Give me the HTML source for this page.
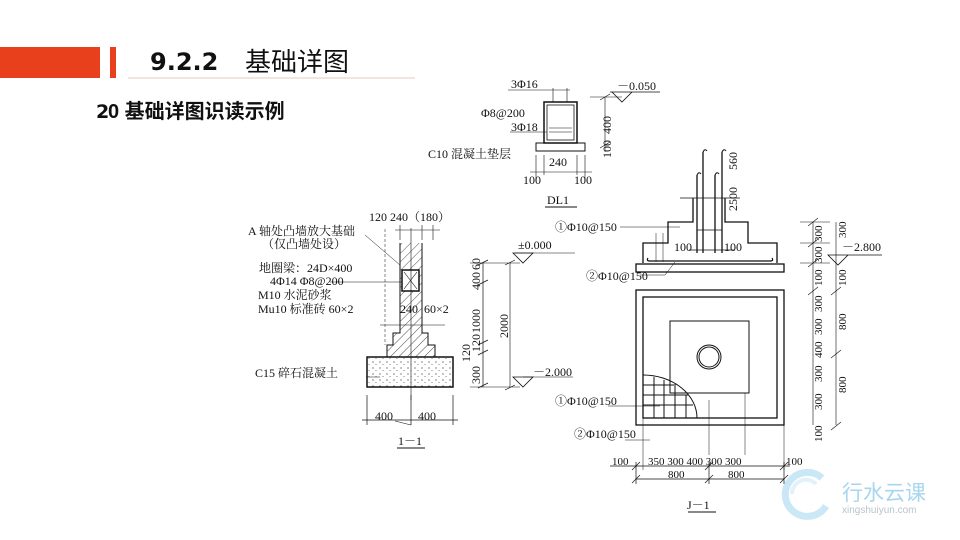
<!DOCTYPE html>
<html><head><meta charset="utf-8"><style>
html,body{margin:0;padding:0;background:#fff;width:960px;height:540px;overflow:hidden}
svg{display:block}
.t{font-family:"Liberation Serif","Noto Serif CJK SC",serif;font-size:12px;fill:#111}
.s{font-family:"Liberation Serif","Noto Serif CJK SC",serif;font-size:11px;fill:#111}
</style></head><body>
<svg width="960" height="540" viewBox="0 0 960 540" xmlns="http://www.w3.org/2000/svg">
<defs>
<pattern id="h" width="6" height="6" patternUnits="userSpaceOnUse" patternTransform="rotate(45)"><line x1="0" y1="0" x2="0" y2="6" stroke="#222" stroke-width="0.8"/></pattern>
<pattern id="d" width="7" height="6" patternUnits="userSpaceOnUse"><circle cx="2" cy="2" r="0.6" fill="#333"/><circle cx="5" cy="4.5" r="0.5" fill="#555"/></pattern>
</defs>
<!-- header -->
<rect x="0" y="47" width="100" height="31" fill="#e8401c"/>
<rect x="110" y="47" width="6" height="31" fill="#e8401c"/>
<line x1="128" y1="78" x2="415" y2="78" stroke="#e8c8c0" stroke-width="1"/>
<text x="150" y="70" font-family="'DejaVu Sans','Noto Sans CJK SC',sans-serif" font-size="24" font-weight="bold" fill="#111">9.2.2</text>
<text x="245" y="71" font-family="'Liberation Sans','Noto Sans CJK SC',sans-serif" font-size="26" fill="#111">基础详图</text>
<text x="96" y="118" font-family="'DejaVu Sans','Noto Sans CJK SC',sans-serif" font-size="19" font-weight="bold" fill="#111">2</text>
<text x="108" y="118" font-family="'Liberation Sans','Noto Sans CJK SC',sans-serif" font-size="20" font-weight="bold" fill="#111">0 基础详图识读示例</text>

<g stroke="#111" fill="none" stroke-width="1">
<!-- Section 1-1 -->
<path d="M400 243 V333 H393 V345 H387 V357 M422 243 V333 H428 V345 H435 V357" />
<path d="M400 243 V333 H393 V345 H387 V357 H435 V345 H428 V333 H422 V243 Z" fill="url(#h)" stroke="none"/>
<rect x="402" y="270" width="17" height="21" fill="#fff" stroke-width="1.5"/>
<path d="M404 272 L417 289 M417 272 L404 289" stroke-width="0.6"/>
<rect x="367" y="357" width="86" height="30" fill="url(#d)" stroke-width="1.5"/>
<line x1="411" y1="228" x2="411" y2="400" stroke-width="0.6"/>
<line x1="385" y1="229" x2="385" y2="345" stroke-dasharray="3,2" stroke-width="0.5"/>
<path d="M367 395 V425 M411 395 V425 M453 395 V425 M362 420 H458" stroke-width="0.7"/>
<path d="M395 421 L411 425 M395 230 H440 M400 225 V240 M422 225 V240 M433 225 V240" stroke-width="0.6"/>
<line x1="397" y1="448" x2="425" y2="448"/>
<line x1="380" y1="325" x2="445" y2="325" stroke-width="0.6"/>
<path d="M380 377 H366 M330 282 H402 M365 235 L400 265" stroke-width="0.5"/>
<path d="M483 262 V387 M478 265 L488 260 M478 285 L488 280 M478 345 L488 340 M478 355 L488 350 M478 388 L488 383" stroke-width="0.7"/>
<path d="M510 263 V387 M505 265 L515 260 M505 390 L515 385 M470 263 H520 M470 387 H520" stroke-width="0.6"/>
<path d="M513 253 L533 253 L523 263 Z M513 377 L533 377 L523 387 Z" stroke-width="0.8"/>
<line x1="515" y1="253" x2="575" y2="253" stroke-width="0.6"/>
<line x1="523" y1="377" x2="573" y2="377" stroke-width="0.6"/>

<!-- DL1 -->
<rect x="544" y="102" width="33" height="41" stroke-width="1.5"/>
<rect x="547" y="105" width="27" height="35" stroke-width="0.8"/>
<path d="M549 132 H572 M549 128 H572 M553 88 V102 M567 88 V102 M508 90 H570 M510 132 H547" stroke-width="0.6"/>
<rect x="536" y="143" width="49" height="8" stroke-width="1"/>
<path d="M536 155 V180 M585 155 V180 M544 155 V175 M577 155 V175 M530 172 H592" stroke-width="0.6"/>
<line x1="545" y1="207" x2="577" y2="207"/>
<path d="M610 92 H660 M612 92 L632 92 L622 102 Z" stroke-width="0.8"/>
<path d="M605 97 V152 M600 100 L610 94 M600 148 L610 142 M590 97 H622" stroke-width="0.6"/>

<!-- J-1 elevation -->
<path d="M693 198 V222 H668 V243 H643 V263 M725 198 V222 H748 V243 H777 V263" stroke-width="1.3"/>
<rect x="636" y="264" width="148" height="8" stroke-width="1.3"/>
<path d="M648 258 Q646 261 650 261 H770 Q774 261 772 258" stroke-width="1.2"/>
<path d="M703 152 V253 M722 152 V253 M697 175 V253 M715 175 V253" stroke-width="1.3"/>
<path d="M703 152 Q705 148 707 151 M722 152 Q724 148 726 151 M697 175 Q699 171 701 174 M715 175 Q717 171 719 174" stroke-width="1"/>
<path d="M697 230 H722 M697 250 H722 M680 198 H740 M689 250 H735" stroke-width="0.7"/>
<path d="M656 233 V262 M663 233 V262 M620 227 H680 M640 275 H665 L675 262" stroke-width="0.5"/>
<rect x="636" y="290" width="148" height="135" stroke-width="1.3"/>
<rect x="643" y="297" width="134" height="121" stroke-width="1.3"/>
<rect x="670" y="321" width="79" height="72" stroke-width="1"/>
<circle cx="709" cy="357" r="12" stroke-width="1"/>
<circle cx="709" cy="357" r="10" stroke-width="1"/>
<path d="M643 375 A54 43 0 0 1 697 418" stroke-width="1"/>
<path d="M643 385 H676 M643 395 H688 M643 405 H693 M654 377 V418 M664 380 V418 M675 386 V418 M686 395 V418" stroke-width="1"/>
<path d="M608 406 H660 M625 440 H650 M709 400 V455 M745 393 V455 M643 418 V470 M784 425 V470" stroke-width="0.5"/>
<path d="M610 466 H790 M636 479 H784 M636 462 V484 M709 462 V484 M784 462 V484" stroke-width="0.7"/>
<path d="M632 470 L640 462 M705 470 L713 462 M780 470 L788 462 M632 483 L640 475 M705 483 L713 475 M780 483 L788 475" stroke-width="0.7"/>
<line x1="688" y1="512" x2="716" y2="512"/>
<path d="M813 222 V425 M836 222 V425 M800 222 H830 M800 243 H830 M800 263 H830" stroke-width="0.6"/>
<path d="M808 226 L818 218 M808 247 L818 239 M808 267 L818 259 M808 295 L818 287 M831 295 L841 287 M831 358 L841 350 M831 430 L841 422" stroke-width="0.6"/>
<path d="M828 255 L848 255 L838 265 Z M840 255 H882" stroke-width="0.8"/>
</g>

<text class="t" x="369" y="221">120 240（180）</text>
<text class="t" x="248" y="235">A 轴处凸墙放大基础</text>
<text class="t" x="262" y="248">（仅凸墙处设）</text>
<text class="t" x="259" y="272">地圈梁：24D×400</text>
<text class="t" x="270" y="285">4Φ14 Φ8@200</text>
<text class="t" x="258" y="299">M10 水泥砂浆</text>
<text class="t" x="258" y="313">Mu10 标准砖 60×2</text>
<text class="t" x="400" y="313">240</text>
<text class="t" x="424" y="313">60×2</text>
<text class="t" x="255" y="377">C15 碎石混凝土</text>
<text class="t" x="375" y="420">400</text>
<text class="t" x="418" y="420">400</text>
<text class="t" x="398" y="445">1－1</text>
<text class="t" x="518" y="249">±0.000</text>
<text class="t" x="533" y="376">－2.000</text>
<g class="t">
<text transform="translate(480,290) rotate(-90)">400</text>
<text transform="translate(480,270) rotate(-90)">60</text>
<text transform="translate(480,333) rotate(-90)">1000</text>
<text transform="translate(480,352) rotate(-90)">120</text>
<text transform="translate(470,362) rotate(-90)">120</text>
<text transform="translate(480,384) rotate(-90)">300</text>
<text transform="translate(508,338) rotate(-90)">2000</text>
</g>
<text class="t" x="511" y="88">3Φ16</text>
<text class="t" x="481" y="117">Φ8@200</text>
<text class="t" x="511" y="131">3Φ18</text>
<text class="t" x="428" y="158">C10 混凝土垫层</text>
<text class="t" x="549" y="166">240</text>
<text class="t" x="523" y="184">100</text>
<text class="t" x="574" y="184">100</text>
<text class="t" x="547" y="204">DL1</text>
<text class="t" x="617" y="90">－0.050</text>
<text class="t" transform="translate(611,134) rotate(-90)">400</text>
<text class="t" transform="translate(611,158) rotate(-90)">100</text>
<text class="t" x="555" y="231">①Φ10@150</text>
<text class="t" x="586" y="280">②Φ10@150</text>
<text class="t" x="555" y="405">①Φ10@150</text>
<text class="t" x="574" y="438">②Φ10@150</text>
<text class="t" x="674" y="251">100</text>
<text class="t" x="724" y="251">100</text>
<text class="t" transform="translate(737,170) rotate(-90)">560</text>
<text class="t" transform="translate(737,211) rotate(-90)">2500</text>
<text class="s" x="612" y="465">100</text>
<text class="s" x="648" y="465">350 300  400 300 300</text>
<text class="s" x="786" y="465">100</text>
<text class="s" x="668" y="478">800</text>
<text class="s" x="728" y="478">800</text>
<text class="t" x="687" y="509">J－1</text>
<text class="t" x="842" y="251">－2.800</text>
<g class="s">
<text transform="translate(822,242) rotate(-90)">300</text>
<text transform="translate(822,263) rotate(-90)">300</text>
<text transform="translate(822,286) rotate(-90)">100</text>
<text transform="translate(822,312) rotate(-90)">300</text>
<text transform="translate(822,335) rotate(-90)">300</text>
<text transform="translate(822,358) rotate(-90)">400</text>
<text transform="translate(822,382) rotate(-90)">300</text>
<text transform="translate(822,410) rotate(-90)">300</text>
<text transform="translate(822,442) rotate(-90)">100</text>
<text transform="translate(846,238) rotate(-90)">300</text>
<text transform="translate(846,286) rotate(-90)">100</text>
<text transform="translate(846,330) rotate(-90)">800</text>
<text transform="translate(846,393) rotate(-90)">800</text>
</g>
<g opacity="0.6">
<path d="M822 478 A22 22 0 1 0 826 506" fill="none" stroke="#a8d8f0" stroke-width="7"/>
<path d="M792 494 A14 14 0 0 1 816 484" fill="none" stroke="#cfeaf7" stroke-width="4"/>
</g>
<text x="842" y="500" font-family="'Noto Sans CJK SC',sans-serif" font-size="21" fill="#a8d6ee">行水云课</text>
<text x="842" y="513" font-family="'Liberation Sans',sans-serif" font-size="10" fill="#b8c4cc">xingshuiyun.com</text>
</svg>
</body></html>
